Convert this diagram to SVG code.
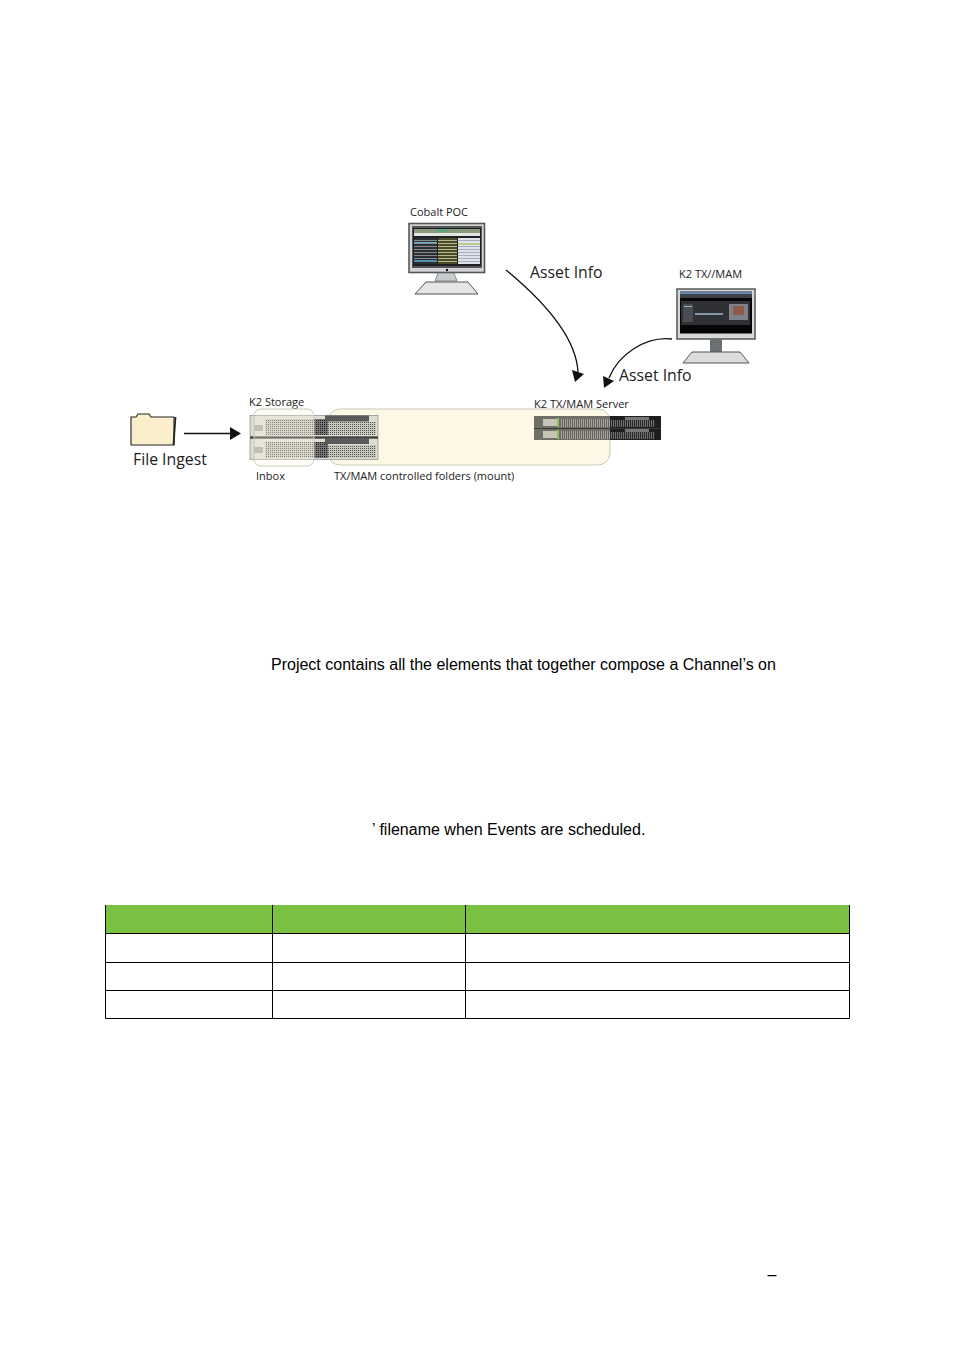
<svg xmlns="http://www.w3.org/2000/svg" width="954" height="1349" viewBox="0 0 954 1349">
<style>
.l{font-family:"Open Sans","Noto Sans",sans-serif;fill:#222}
.s{font-size:11px}
.b{font-size:15.8px}
.p{font-family:"Liberation Sans",Arial,sans-serif;font-size:16px;fill:#000}
.c{fill:none;stroke:#111;stroke-width:1.300}
.h{fill:#111}
.t{fill:none;stroke:#000;stroke-width:1}
</style>
<defs>
<pattern id="g1" width="2" height="2" patternUnits="userSpaceOnUse"><rect width="2" height="2" fill="#c9c8bf"/><rect width="1" height="1" fill="#55554f"/></pattern>
<pattern id="g2" width="2" height="2" patternUnits="userSpaceOnUse"><rect width="2" height="2" fill="#77777a"/><rect width="1" height="1" fill="#1e1e1e"/></pattern>
<pattern id="g3" width="2" height="3" patternUnits="userSpaceOnUse"><rect width="2" height="3" fill="#a5a397"/><rect width="1" height="3" fill="#66665e"/></pattern>
<pattern id="g4" width="2" height="3" patternUnits="userSpaceOnUse"><rect width="2" height="3" fill="#6b6b6b"/><rect width="1" height="3" fill="#2b2b2b"/></pattern>
<pattern id="r1" width="3" height="3" patternUnits="userSpaceOnUse"><rect width="3" height="3" fill="#2c2f33"/><rect width="3" height="1" fill="#868a8d"/></pattern>
<pattern id="r2" width="3" height="3" patternUnits="userSpaceOnUse"><rect width="3" height="3" fill="#4b4c2c"/><rect width="3" height="1" fill="#b7b88a"/></pattern>
<pattern id="r3" width="3" height="3" patternUnits="userSpaceOnUse"><rect width="3" height="3" fill="#dfe3e8"/><rect width="3" height="1" fill="#9fb0c4"/></pattern>
</defs>
<rect width="954" height="1349" fill="#fff"/>
<g id="connectors">
<path class="c" d="M506 270C540 298 576 335 578 372"/>
<path class="h" d="M572 370L584 374L575 382Z"/>
<path class="c" d="M672 339C645 336 618 355 609 378"/>
<path class="h" d="M603 376L614 381L604 388Z"/>
<path class="c" d="M184 433.500H231"/>
<path class="h" d="M230 427L241 433.500L230 440Z"/>
</g>
<g id="cobalt-poc">
<text class="l s" x="410" y="216">Cobalt POC</text>
<rect x="409" y="223.500" width="75.500" height="49" fill="#d4d4d4" stroke="#55585a" stroke-width="1.600"/>
<rect x="412" y="226" width="70" height="42" fill="#55585a"/>
<rect x="413" y="228" width="68" height="38" fill="#1d1f22"/>
<rect x="414" y="229" width="66" height="4" fill="#8a9a7c"/>
<rect x="437" y="229" width="12" height="3" fill="#5fa37c"/>
<rect x="414" y="233" width="66" height="3" fill="#e2e5e1"/>
<rect x="414" y="238" width="23" height="26" fill="url(#r1)"/>
<rect x="414" y="242" width="23" height="1" fill="#69b9d6"/>
<rect x="414" y="260" width="23" height="1.500" fill="#3a8fc0"/>
<rect x="438" y="238" width="19" height="26" fill="url(#r2)"/>
<rect x="458" y="238" width="22" height="26" fill="url(#r3)"/>
<rect x="458" y="243" width="22" height="2" fill="#b9cf8c"/>
<path d="M438 273H454L457 281H435Z" fill="#c6ccce" stroke="#666" stroke-width=".7"/>
<path d="M426 282H468L478 294H415Z" fill="#e6e6e6" stroke="#555" stroke-width="1"/>
<circle cx="447" cy="270" r="1.200" fill="#111"/>
</g>
<g id="k2-txmam">
<text class="l s" x="679" y="278">K2 TX//MAM</text>
<rect x="677" y="289" width="78" height="50" fill="#d8d8d8" stroke="#55585a" stroke-width="1.500"/>
<rect x="680" y="291.500" width="72" height="42" fill="#050505"/>
<rect x="680" y="291.500" width="72" height="3" fill="#6d85a8"/>
<rect x="680" y="295" width="72" height="3" fill="#3d4046"/>
<rect x="681" y="301" width="69" height="24" fill="#2f3134"/>
<rect x="683" y="304" width="10" height="18" fill="#4a4d52"/>
<rect x="684" y="306" width="8" height="1" fill="#8fb0c8"/>
<rect x="695" y="313" width="28" height="2" fill="#7f97a8"/>
<rect x="729" y="304" width="19" height="16" fill="#7f8088"/>
<rect x="733" y="306" width="11" height="9" fill="#8d5a48"/>
<rect x="710" y="339" width="12" height="13" fill="#6d7072"/>
<path d="M692 352H740L749 363H683Z" fill="#dcdcdc" stroke="#555" stroke-width="1"/>
</g>
<g id="txmam-folders">
<rect x="328" y="409" width="282" height="56" rx="12" fill="#fdf8e6" stroke="#c9c9bb" stroke-width="1"/>
<text class="l s" x="334" y="480">TX/MAM controlled folders (mount)</text>
</g>
<g id="k2-storage">
<text class="l s" x="249" y="406">K2 Storage</text>
<rect x="250" y="415.500" width="128" height="21" fill="#deddd3" stroke="#777" stroke-width=".6"/>
<rect x="250" y="438.500" width="128" height="21" fill="#deddd3" stroke="#777" stroke-width=".6"/>
<rect x="265" y="419" width="49" height="16" fill="url(#g1)"/>
<rect x="328" y="422" width="48" height="13" fill="url(#g1)"/>
<rect x="265" y="442" width="49" height="16" fill="url(#g1)"/>
<rect x="328" y="445" width="48" height="13" fill="url(#g1)"/>
<rect x="314" y="419" width="14" height="16" fill="url(#g2)"/>
<rect x="314" y="442" width="14" height="16" fill="url(#g2)"/>
<rect x="254" y="425" width="9" height="6" fill="#a8a79c"/>
<rect x="254" y="447" width="9" height="6" fill="#a8a79c"/>
<rect x="325" y="415.500" width="44" height="6" fill="#5a5b58"/>
<rect x="325" y="438.500" width="44" height="5.500" fill="#5a5b58"/>
<rect x="250" y="436.500" width="128" height="2" fill="#3c3c3c"/>
<rect x="254" y="409" width="60" height="57" rx="7" fill="#fdf8e6" fill-opacity=".3" stroke="#c9c9bb" stroke-width="1"/>
<text class="l s" x="256" y="480">Inbox</text>
</g>
<g id="k2-txmam-server">
<text class="l s" x="534" y="408">K2 TX/MAM Server</text>
<rect x="534" y="416" width="127" height="24" fill="#6f6f67"/>
<rect x="561" y="419" width="50" height="8" fill="url(#g3)"/>
<rect x="561" y="431" width="50" height="8" fill="url(#g3)"/>
<rect x="610" y="416" width="51" height="24" fill="#1e1e1e"/>
<rect x="610" y="420" width="45" height="7" fill="url(#g4)"/>
<rect x="610" y="432" width="45" height="7" fill="url(#g4)"/>
<rect x="625" y="417" width="24" height="3" fill="#777"/>
<rect x="625" y="429" width="24" height="3" fill="#777"/>
<rect x="534" y="428" width="127" height="1" fill="#3a3a3a"/>
<rect x="543" y="419" width="14" height="7" fill="#c7c5b8"/>
<rect x="543" y="431" width="14" height="7" fill="#c7c5b8"/>
<rect x="557" y="418" width="2" height="9" fill="#8cc152"/>
<rect x="557" y="430" width="2" height="9" fill="#8cc152"/>
</g>
<g id="file-ingest">
<path d="M131 445V417H136L138 414H149L151 417H174V445Z" fill="#fbeecb" stroke="#222" stroke-width="1.100"/>
<path d="M175.500 417L173.500 445" fill="none" stroke="#222" stroke-width="1.800"/>
<text class="l b" x="133" y="465">File Ingest</text>
</g>
<text class="l b" x="530" y="278">Asset Info</text>
<text class="l b" x="619" y="381">Asset Info</text>
<text class="p" x="271" y="670">Project contains all the elements that together compose a Channel’s on</text>
<text class="p" x="372" y="835">’ filename when Events are scheduled.</text>
<g id="table">
<rect x="105.500" y="905" width="744" height="28" fill="#7ac143"/>
<path class="t" d="M105.500 905V1018.500H849.500V905M105.500 933.500H849.500M105.500 962.500H849.500M105.500 990.500H849.500M272.500 905V1018.500M465.500 905V1018.500"/>
</g>
<text class="p" x="767.500" y="1279.500">–</text>
</svg>
